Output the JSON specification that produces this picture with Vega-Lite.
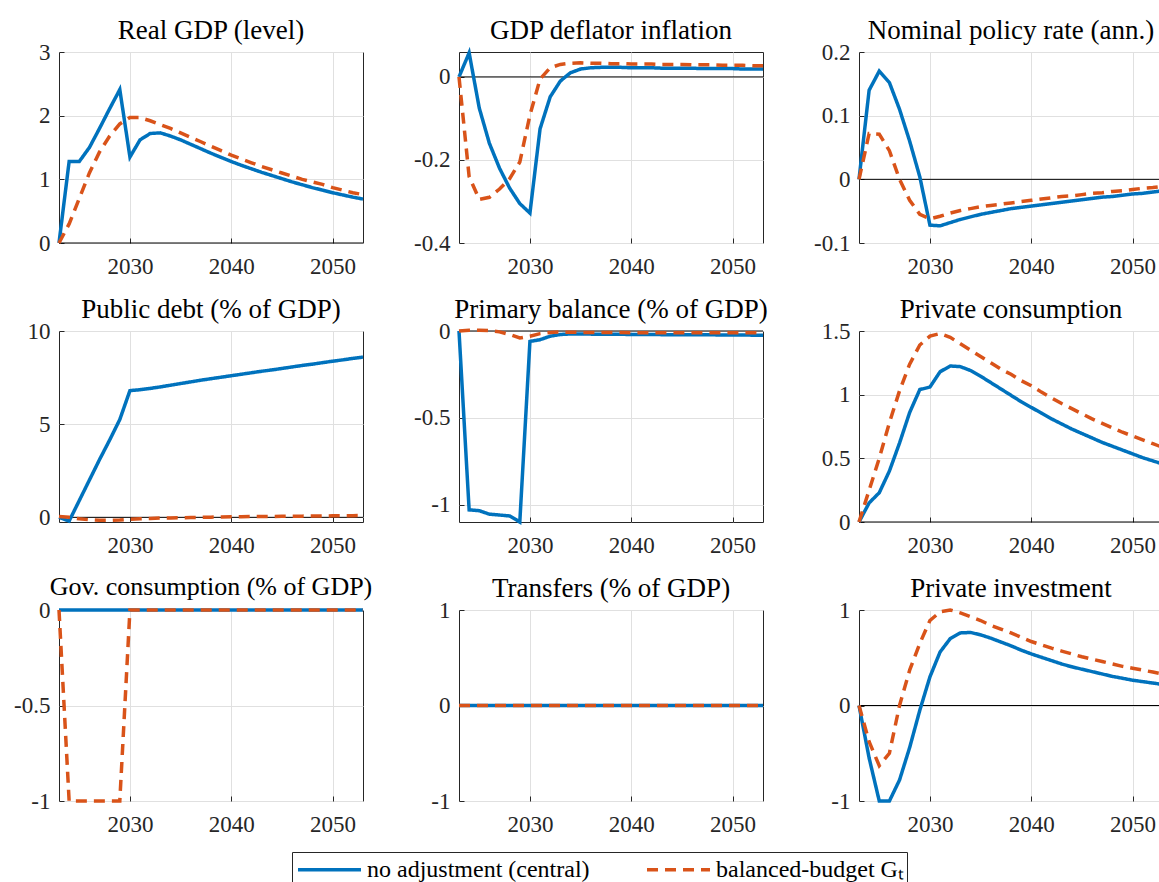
{
  "$schema": "https://vega.github.io/schema/vega-lite/v6.json",
  "padding": {"left": 13, "top": 16, "right": 0, "bottom": 0},
  "background": "white",
  "datasets": {
    "d": [
      {"p":"gdp","t":2023,"a":0,"b":0},{"p":"gdp","t":2024,"a":1.28,"b":0.3},{"p":"gdp","t":2025,"a":1.28,"b":0.7},{"p":"gdp","t":2026,"a":1.5,"b":1.1},{"p":"gdp","t":2027,"a":1.8,"b":1.43},{"p":"gdp","t":2028,"a":2.11,"b":1.68},{"p":"gdp","t":2029,"a":2.41,"b":1.87},{"p":"gdp","t":2030,"a":1.35,"b":1.97},{"p":"gdp","t":2031,"a":1.62,"b":1.97},{"p":"gdp","t":2032,"a":1.72,"b":1.92},{"p":"gdp","t":2033,"a":1.73,"b":1.86},{"p":"gdp","t":2034,"a":1.68,"b":1.8},{"p":"gdp","t":2035,"a":1.62,"b":1.73},{"p":"gdp","t":2036,"a":1.55,"b":1.66},{"p":"gdp","t":2037,"a":1.48,"b":1.59},{"p":"gdp","t":2038,"a":1.41,"b":1.52},{"p":"gdp","t":2039,"a":1.345,"b":1.45},{"p":"gdp","t":2040,"a":1.28,"b":1.38},{"p":"gdp","t":2041,"a":1.22,"b":1.32},{"p":"gdp","t":2042,"a":1.165,"b":1.26},{"p":"gdp","t":2043,"a":1.11,"b":1.2},{"p":"gdp","t":2044,"a":1.06,"b":1.15},{"p":"gdp","t":2045,"a":1.01,"b":1.1},{"p":"gdp","t":2046,"a":0.96,"b":1.05},{"p":"gdp","t":2047,"a":0.915,"b":1.0},{"p":"gdp","t":2048,"a":0.87,"b":0.96},{"p":"gdp","t":2049,"a":0.83,"b":0.92},{"p":"gdp","t":2050,"a":0.79,"b":0.87},{"p":"gdp","t":2051,"a":0.755,"b":0.83},{"p":"gdp","t":2052,"a":0.72,"b":0.79},{"p":"gdp","t":2053,"a":0.69,"b":0.76},
      {"p":"infl","t":2023,"a":0,"b":0},{"p":"infl","t":2024,"a":0.058,"b":-0.24},{"p":"infl","t":2025,"a":-0.075,"b":-0.295},{"p":"infl","t":2026,"a":-0.16,"b":-0.29},{"p":"infl","t":2027,"a":-0.22,"b":-0.27},{"p":"infl","t":2028,"a":-0.268,"b":-0.245},{"p":"infl","t":2029,"a":-0.305,"b":-0.205},{"p":"infl","t":2030,"a":-0.328,"b":-0.092},{"p":"infl","t":2031,"a":-0.125,"b":-0.005},{"p":"infl","t":2032,"a":-0.048,"b":0.022},{"p":"infl","t":2033,"a":-0.01,"b":0.03},{"p":"infl","t":2034,"a":0.01,"b":0.033},{"p":"infl","t":2035,"a":0.019,"b":0.034},{"p":"infl","t":2036,"a":0.022,"b":0.033},{"p":"infl","t":2037,"a":0.023,"b":0.033},{"p":"infl","t":2038,"a":0.023,"b":0.032},{"p":"infl","t":2039,"a":0.023,"b":0.032},{"p":"infl","t":2040,"a":0.022,"b":0.031},{"p":"infl","t":2041,"a":0.022,"b":0.031},{"p":"infl","t":2042,"a":0.022,"b":0.031},{"p":"infl","t":2043,"a":0.021,"b":0.03},{"p":"infl","t":2044,"a":0.021,"b":0.03},{"p":"infl","t":2045,"a":0.021,"b":0.03},{"p":"infl","t":2046,"a":0.021,"b":0.029},{"p":"infl","t":2047,"a":0.02,"b":0.029},{"p":"infl","t":2048,"a":0.02,"b":0.029},{"p":"infl","t":2049,"a":0.02,"b":0.028},{"p":"infl","t":2050,"a":0.02,"b":0.028},{"p":"infl","t":2051,"a":0.019,"b":0.028},{"p":"infl","t":2052,"a":0.019,"b":0.027},{"p":"infl","t":2053,"a":0.019,"b":0.027},
      {"p":"rate","t":2023,"a":0,"b":0},{"p":"rate","t":2024,"a":0.14,"b":0.072},{"p":"rate","t":2025,"a":0.17,"b":0.071},{"p":"rate","t":2026,"a":0.152,"b":0.045},{"p":"rate","t":2027,"a":0.11,"b":0.0},{"p":"rate","t":2028,"a":0.06,"b":-0.033},{"p":"rate","t":2029,"a":0.004,"b":-0.055},{"p":"rate","t":2030,"a":-0.072,"b":-0.062},{"p":"rate","t":2031,"a":-0.073,"b":-0.058},{"p":"rate","t":2032,"a":-0.068,"b":-0.053},{"p":"rate","t":2033,"a":-0.063,"b":-0.049},{"p":"rate","t":2034,"a":-0.059,"b":-0.046},{"p":"rate","t":2035,"a":-0.055,"b":-0.043},{"p":"rate","t":2036,"a":-0.052,"b":-0.041},{"p":"rate","t":2037,"a":-0.049,"b":-0.039},{"p":"rate","t":2038,"a":-0.046,"b":-0.037},{"p":"rate","t":2039,"a":-0.044,"b":-0.035},{"p":"rate","t":2040,"a":-0.042,"b":-0.033},{"p":"rate","t":2041,"a":-0.04,"b":-0.031},{"p":"rate","t":2042,"a":-0.038,"b":-0.029},{"p":"rate","t":2043,"a":-0.036,"b":-0.027},{"p":"rate","t":2044,"a":-0.034,"b":-0.026},{"p":"rate","t":2045,"a":-0.032,"b":-0.024},{"p":"rate","t":2046,"a":-0.03,"b":-0.022},{"p":"rate","t":2047,"a":-0.028,"b":-0.021},{"p":"rate","t":2048,"a":-0.027,"b":-0.019},{"p":"rate","t":2049,"a":-0.025,"b":-0.018},{"p":"rate","t":2050,"a":-0.023,"b":-0.016},{"p":"rate","t":2051,"a":-0.022,"b":-0.014},{"p":"rate","t":2052,"a":-0.02,"b":-0.013},{"p":"rate","t":2053,"a":-0.018,"b":-0.011},
      {"p":"debt","t":2023,"a":0,"b":0.05},{"p":"debt","t":2024,"a":-0.2,"b":0.0},{"p":"debt","t":2025,"a":0.9,"b":-0.08},{"p":"debt","t":2026,"a":2.0,"b":-0.13},{"p":"debt","t":2027,"a":3.1,"b":-0.16},{"p":"debt","t":2028,"a":4.15,"b":-0.16},{"p":"debt","t":2029,"a":5.25,"b":-0.14},{"p":"debt","t":2030,"a":6.8,"b":-0.1},{"p":"debt","t":2031,"a":6.85,"b":-0.08},{"p":"debt","t":2032,"a":6.92,"b":-0.06},{"p":"debt","t":2033,"a":7.0,"b":-0.04},{"p":"debt","t":2034,"a":7.09,"b":-0.03},{"p":"debt","t":2035,"a":7.18,"b":-0.02},{"p":"debt","t":2036,"a":7.27,"b":-0.01},{"p":"debt","t":2037,"a":7.36,"b":0.0},{"p":"debt","t":2038,"a":7.44,"b":0.01},{"p":"debt","t":2039,"a":7.52,"b":0.02},{"p":"debt","t":2040,"a":7.6,"b":0.03},{"p":"debt","t":2041,"a":7.68,"b":0.035},{"p":"debt","t":2042,"a":7.76,"b":0.04},{"p":"debt","t":2043,"a":7.84,"b":0.045},{"p":"debt","t":2044,"a":7.91,"b":0.05},{"p":"debt","t":2045,"a":7.99,"b":0.055},{"p":"debt","t":2046,"a":8.07,"b":0.06},{"p":"debt","t":2047,"a":8.15,"b":0.065},{"p":"debt","t":2048,"a":8.22,"b":0.07},{"p":"debt","t":2049,"a":8.3,"b":0.075},{"p":"debt","t":2050,"a":8.38,"b":0.08},{"p":"debt","t":2051,"a":8.45,"b":0.085},{"p":"debt","t":2052,"a":8.53,"b":0.09},{"p":"debt","t":2053,"a":8.6,"b":0.095},
      {"p":"pb","t":2023,"a":0,"b":0},{"p":"pb","t":2024,"a":-1.03,"b":0.004},{"p":"pb","t":2025,"a":-1.035,"b":0.005},{"p":"pb","t":2026,"a":-1.055,"b":0.002},{"p":"pb","t":2027,"a":-1.06,"b":-0.005},{"p":"pb","t":2028,"a":-1.065,"b":-0.02},{"p":"pb","t":2029,"a":-1.1,"b":-0.04},{"p":"pb","t":2030,"a":-0.06,"b":-0.03},{"p":"pb","t":2031,"a":-0.05,"b":-0.015},{"p":"pb","t":2032,"a":-0.03,"b":-0.008},{"p":"pb","t":2033,"a":-0.02,"b":-0.006},{"p":"pb","t":2034,"a":-0.017,"b":-0.007},{"p":"pb","t":2035,"a":-0.017,"b":-0.008},{"p":"pb","t":2036,"a":-0.018,"b":-0.008},{"p":"pb","t":2037,"a":-0.018,"b":-0.009},{"p":"pb","t":2038,"a":-0.019,"b":-0.009},{"p":"pb","t":2039,"a":-0.019,"b":-0.009},{"p":"pb","t":2040,"a":-0.02,"b":-0.01},{"p":"pb","t":2041,"a":-0.02,"b":-0.01},{"p":"pb","t":2042,"a":-0.02,"b":-0.01},{"p":"pb","t":2043,"a":-0.021,"b":-0.01},{"p":"pb","t":2044,"a":-0.021,"b":-0.01},{"p":"pb","t":2045,"a":-0.021,"b":-0.01},{"p":"pb","t":2046,"a":-0.022,"b":-0.01},{"p":"pb","t":2047,"a":-0.022,"b":-0.01},{"p":"pb","t":2048,"a":-0.022,"b":-0.01},{"p":"pb","t":2049,"a":-0.023,"b":-0.01},{"p":"pb","t":2050,"a":-0.023,"b":-0.01},{"p":"pb","t":2051,"a":-0.023,"b":-0.01},{"p":"pb","t":2052,"a":-0.024,"b":-0.01},{"p":"pb","t":2053,"a":-0.024,"b":-0.01},
      {"p":"cons","t":2023,"a":0,"b":0},{"p":"cons","t":2024,"a":0.15,"b":0.25},{"p":"cons","t":2025,"a":0.23,"b":0.5},{"p":"cons","t":2026,"a":0.4,"b":0.78},{"p":"cons","t":2027,"a":0.62,"b":1.03},{"p":"cons","t":2028,"a":0.86,"b":1.24},{"p":"cons","t":2029,"a":1.04,"b":1.39},{"p":"cons","t":2030,"a":1.06,"b":1.46},{"p":"cons","t":2031,"a":1.18,"b":1.48},{"p":"cons","t":2032,"a":1.225,"b":1.45},{"p":"cons","t":2033,"a":1.22,"b":1.4},{"p":"cons","t":2034,"a":1.19,"b":1.35},{"p":"cons","t":2035,"a":1.145,"b":1.3},{"p":"cons","t":2036,"a":1.095,"b":1.25},{"p":"cons","t":2037,"a":1.045,"b":1.2},{"p":"cons","t":2038,"a":0.995,"b":1.16},{"p":"cons","t":2039,"a":0.945,"b":1.11},{"p":"cons","t":2040,"a":0.9,"b":1.07},{"p":"cons","t":2041,"a":0.855,"b":1.02},{"p":"cons","t":2042,"a":0.81,"b":0.975},{"p":"cons","t":2043,"a":0.77,"b":0.93},{"p":"cons","t":2044,"a":0.73,"b":0.89},{"p":"cons","t":2045,"a":0.695,"b":0.85},{"p":"cons","t":2046,"a":0.66,"b":0.81},{"p":"cons","t":2047,"a":0.625,"b":0.775},{"p":"cons","t":2048,"a":0.595,"b":0.74},{"p":"cons","t":2049,"a":0.565,"b":0.705},{"p":"cons","t":2050,"a":0.535,"b":0.675},{"p":"cons","t":2051,"a":0.505,"b":0.645},{"p":"cons","t":2052,"a":0.48,"b":0.615},{"p":"cons","t":2053,"a":0.455,"b":0.585},
      {"p":"gov","t":2023,"a":0,"b":0},{"p":"gov","t":2024,"a":0,"b":-1},{"p":"gov","t":2025,"a":0,"b":-1},{"p":"gov","t":2026,"a":0,"b":-1},{"p":"gov","t":2027,"a":0,"b":-1},{"p":"gov","t":2028,"a":0,"b":-1},{"p":"gov","t":2029,"a":0,"b":-1},{"p":"gov","t":2030,"a":0,"b":0},{"p":"gov","t":2031,"a":0,"b":0},{"p":"gov","t":2032,"a":0,"b":0},{"p":"gov","t":2033,"a":0,"b":0},{"p":"gov","t":2034,"a":0,"b":0},{"p":"gov","t":2035,"a":0,"b":0},{"p":"gov","t":2036,"a":0,"b":0},{"p":"gov","t":2037,"a":0,"b":0},{"p":"gov","t":2038,"a":0,"b":0},{"p":"gov","t":2039,"a":0,"b":0},{"p":"gov","t":2040,"a":0,"b":0},{"p":"gov","t":2041,"a":0,"b":0},{"p":"gov","t":2042,"a":0,"b":0},{"p":"gov","t":2043,"a":0,"b":0},{"p":"gov","t":2044,"a":0,"b":0},{"p":"gov","t":2045,"a":0,"b":0},{"p":"gov","t":2046,"a":0,"b":0},{"p":"gov","t":2047,"a":0,"b":0},{"p":"gov","t":2048,"a":0,"b":0},{"p":"gov","t":2049,"a":0,"b":0},{"p":"gov","t":2050,"a":0,"b":0},{"p":"gov","t":2051,"a":0,"b":0},{"p":"gov","t":2052,"a":0,"b":0},{"p":"gov","t":2053,"a":0,"b":0},
      {"p":"tr","t":2023,"a":0,"b":0},{"p":"tr","t":2024,"a":0,"b":0},{"p":"tr","t":2025,"a":0,"b":0},{"p":"tr","t":2026,"a":0,"b":0},{"p":"tr","t":2027,"a":0,"b":0},{"p":"tr","t":2028,"a":0,"b":0},{"p":"tr","t":2029,"a":0,"b":0},{"p":"tr","t":2030,"a":0,"b":0},{"p":"tr","t":2031,"a":0,"b":0},{"p":"tr","t":2032,"a":0,"b":0},{"p":"tr","t":2033,"a":0,"b":0},{"p":"tr","t":2034,"a":0,"b":0},{"p":"tr","t":2035,"a":0,"b":0},{"p":"tr","t":2036,"a":0,"b":0},{"p":"tr","t":2037,"a":0,"b":0},{"p":"tr","t":2038,"a":0,"b":0},{"p":"tr","t":2039,"a":0,"b":0},{"p":"tr","t":2040,"a":0,"b":0},{"p":"tr","t":2041,"a":0,"b":0},{"p":"tr","t":2042,"a":0,"b":0},{"p":"tr","t":2043,"a":0,"b":0},{"p":"tr","t":2044,"a":0,"b":0},{"p":"tr","t":2045,"a":0,"b":0},{"p":"tr","t":2046,"a":0,"b":0},{"p":"tr","t":2047,"a":0,"b":0},{"p":"tr","t":2048,"a":0,"b":0},{"p":"tr","t":2049,"a":0,"b":0},{"p":"tr","t":2050,"a":0,"b":0},{"p":"tr","t":2051,"a":0,"b":0},{"p":"tr","t":2052,"a":0,"b":0},{"p":"tr","t":2053,"a":0,"b":0},
      {"p":"inv","t":2023,"a":0,"b":0},{"p":"inv","t":2024,"a":-0.55,"b":-0.38},{"p":"inv","t":2025,"a":-1.0,"b":-0.63},{"p":"inv","t":2026,"a":-1.0,"b":-0.5},{"p":"inv","t":2027,"a":-0.78,"b":0.0},{"p":"inv","t":2028,"a":-0.44,"b":0.37},{"p":"inv","t":2029,"a":-0.05,"b":0.65},{"p":"inv","t":2030,"a":0.3,"b":0.89},{"p":"inv","t":2031,"a":0.56,"b":0.98},{"p":"inv","t":2032,"a":0.7,"b":1.0},{"p":"inv","t":2033,"a":0.76,"b":0.97},{"p":"inv","t":2034,"a":0.765,"b":0.93},{"p":"inv","t":2035,"a":0.74,"b":0.89},{"p":"inv","t":2036,"a":0.705,"b":0.84},{"p":"inv","t":2037,"a":0.665,"b":0.8},{"p":"inv","t":2038,"a":0.625,"b":0.76},{"p":"inv","t":2039,"a":0.58,"b":0.715},{"p":"inv","t":2040,"a":0.54,"b":0.67},{"p":"inv","t":2041,"a":0.505,"b":0.635},{"p":"inv","t":2042,"a":0.47,"b":0.6},{"p":"inv","t":2043,"a":0.435,"b":0.57},{"p":"inv","t":2044,"a":0.405,"b":0.54},{"p":"inv","t":2045,"a":0.38,"b":0.51},{"p":"inv","t":2046,"a":0.355,"b":0.485},{"p":"inv","t":2047,"a":0.33,"b":0.46},{"p":"inv","t":2048,"a":0.305,"b":0.435},{"p":"inv","t":2049,"a":0.285,"b":0.41},{"p":"inv","t":2050,"a":0.265,"b":0.39},{"p":"inv","t":2051,"a":0.25,"b":0.37},{"p":"inv","t":2052,"a":0.235,"b":0.35},{"p":"inv","t":2053,"a":0.22,"b":0.33}
    ],
    "zero": [{"z": 0}]
  },
  "columns": 3,
  "bounds": "flush",
  "spacing": {"row": 88, "column": 96},
  "concat": [
    {"title": "Real GDP (level)", "width": 304, "height": 191, "layer": [
      {"data": {"name": "zero"}, "mark": {"type": "rule", "color": "black", "strokeWidth": 1}, "encoding": {"y": {"field": "z", "type": "quantitative", "axis": {"title": null}}}},
      {"data": {"name": "d"}, "transform": [{"filter": "datum.p == 'gdp'"}, {"fold": ["a", "b"], "as": ["s", "v"]}], "mark": {"type": "line", "strokeWidth": 3.5},
       "encoding": {
        "x": {"field": "t", "type": "quantitative", "scale": {"domain": [2023, 2053], "nice": false, "zero": false}, "axis": {"values": [2030, 2040, 2050], "format": "d", "title": null}},
        "y": {"field": "v", "type": "quantitative", "scale": {"domain": [0, 3], "nice": false, "zero": false}, "axis": {"values": [0, 1, 2, 3], "title": null, "labelExpr": "'' + datum.value"}},
        "color": {"field": "s", "type": "nominal", "scale": {"domain": ["a", "b"], "range": ["#0072BD", "#D95319"]}, "legend": {"orient": "none", "legendX": 233, "legendY": 800, "direction": "horizontal", "title": null, "labelLimit": 500, "labelExpr": "datum.label == 'a' ? 'no adjustment (central)' : 'balanced-budget Gₜ'"}},
        "strokeDash": {"field": "s", "type": "nominal", "scale": {"domain": ["a", "b"], "range": [[1, 0], [11, 7]]}, "legend": {"orient": "none", "legendX": 233, "legendY": 800, "direction": "horizontal", "title": null, "labelLimit": 500, "labelExpr": "datum.label == 'a' ? 'no adjustment (central)' : 'balanced-budget Gₜ'"}}
       }}
    ]},
    {"title": {"text": "GDP deflator inflation", "offset": 1}, "width": 304, "height": 191, "layer": [
      {"data": {"name": "zero"}, "mark": {"type": "rule", "color": "black", "strokeWidth": 1}, "encoding": {"y": {"field": "z", "type": "quantitative", "axis": {"title": null}}}},
      {"data": {"name": "d"}, "transform": [{"filter": "datum.p == 'infl'"}, {"fold": ["a", "b"], "as": ["s", "v"]}], "mark": {"type": "line", "strokeWidth": 3.5},
       "encoding": {
        "x": {"field": "t", "type": "quantitative", "scale": {"domain": [2023, 2053], "nice": false, "zero": false}, "axis": {"values": [2030, 2040, 2050], "format": "d", "title": null}},
        "y": {"field": "v", "type": "quantitative", "scale": {"domain": [-0.4, 0.06], "nice": false, "zero": false}, "axis": {"values": [-0.4, -0.2, 0], "title": null, "labelExpr": "'' + datum.value"}},
        "color": {"field": "s", "type": "nominal", "scale": {"domain": ["a", "b"], "range": ["#0072BD", "#D95319"]}},
        "strokeDash": {"field": "s", "type": "nominal", "scale": {"domain": ["a", "b"], "range": [[1, 0], [11, 7]]}}
       }}
    ]},
    {"title": "Nominal policy rate (ann.)", "width": 304, "height": 191, "layer": [
      {"data": {"name": "zero"}, "mark": {"type": "rule", "color": "black", "strokeWidth": 1}, "encoding": {"y": {"field": "z", "type": "quantitative", "axis": {"title": null}}}},
      {"data": {"name": "d"}, "transform": [{"filter": "datum.p == 'rate'"}, {"fold": ["a", "b"], "as": ["s", "v"]}], "mark": {"type": "line", "strokeWidth": 3.5},
       "encoding": {
        "x": {"field": "t", "type": "quantitative", "scale": {"domain": [2023, 2053], "nice": false, "zero": false}, "axis": {"values": [2030, 2040, 2050], "format": "d", "title": null}},
        "y": {"field": "v", "type": "quantitative", "scale": {"domain": [-0.1, 0.2], "nice": false, "zero": false}, "axis": {"values": [-0.1, 0, 0.1, 0.2], "title": null, "labelExpr": "'' + datum.value"}},
        "color": {"field": "s", "type": "nominal", "scale": {"domain": ["a", "b"], "range": ["#0072BD", "#D95319"]}},
        "strokeDash": {"field": "s", "type": "nominal", "scale": {"domain": ["a", "b"], "range": [[1, 0], [11, 7]]}}
       }}
    ]},
    {"title": "Public debt (% of GDP)", "width": 304, "height": 191, "layer": [
      {"data": {"name": "zero"}, "mark": {"type": "rule", "color": "black", "strokeWidth": 1}, "encoding": {"y": {"field": "z", "type": "quantitative", "axis": {"title": null}}}},
      {"data": {"name": "d"}, "transform": [{"filter": "datum.p == 'debt'"}, {"fold": ["a", "b"], "as": ["s", "v"]}], "mark": {"type": "line", "strokeWidth": 3.5},
       "encoding": {
        "x": {"field": "t", "type": "quantitative", "scale": {"domain": [2023, 2053], "nice": false, "zero": false}, "axis": {"values": [2030, 2040, 2050], "format": "d", "title": null}},
        "y": {"field": "v", "type": "quantitative", "scale": {"domain": [-0.25, 10], "nice": false, "zero": false}, "axis": {"values": [0, 5, 10], "title": null, "labelExpr": "'' + datum.value"}},
        "color": {"field": "s", "type": "nominal", "scale": {"domain": ["a", "b"], "range": ["#0072BD", "#D95319"]}},
        "strokeDash": {"field": "s", "type": "nominal", "scale": {"domain": ["a", "b"], "range": [[1, 0], [11, 7]]}}
       }}
    ]},
    {"title": "Primary balance (% of GDP)", "width": 304, "height": 191, "layer": [
      {"data": {"name": "zero"}, "mark": {"type": "rule", "color": "black", "strokeWidth": 1}, "encoding": {"y": {"field": "z", "type": "quantitative", "axis": {"title": null}}}},
      {"data": {"name": "d"}, "transform": [{"filter": "datum.p == 'pb'"}, {"fold": ["a", "b"], "as": ["s", "v"]}], "mark": {"type": "line", "strokeWidth": 3.5},
       "encoding": {
        "x": {"field": "t", "type": "quantitative", "scale": {"domain": [2023, 2053], "nice": false, "zero": false}, "axis": {"values": [2030, 2040, 2050], "format": "d", "title": null}},
        "y": {"field": "v", "type": "quantitative", "scale": {"domain": [-1.1, 0], "nice": false, "zero": false}, "axis": {"values": [-1, -0.5, 0], "title": null, "labelExpr": "'' + datum.value"}},
        "color": {"field": "s", "type": "nominal", "scale": {"domain": ["a", "b"], "range": ["#0072BD", "#D95319"]}},
        "strokeDash": {"field": "s", "type": "nominal", "scale": {"domain": ["a", "b"], "range": [[1, 0], [11, 7]]}}
       }}
    ]},
    {"title": "Private consumption", "width": 304, "height": 191, "layer": [
      {"data": {"name": "zero"}, "mark": {"type": "rule", "color": "black", "strokeWidth": 1}, "encoding": {"y": {"field": "z", "type": "quantitative", "axis": {"title": null}}}},
      {"data": {"name": "d"}, "transform": [{"filter": "datum.p == 'cons'"}, {"fold": ["a", "b"], "as": ["s", "v"]}], "mark": {"type": "line", "strokeWidth": 3.5},
       "encoding": {
        "x": {"field": "t", "type": "quantitative", "scale": {"domain": [2023, 2053], "nice": false, "zero": false}, "axis": {"values": [2030, 2040, 2050], "format": "d", "title": null}},
        "y": {"field": "v", "type": "quantitative", "scale": {"domain": [0, 1.5], "nice": false, "zero": false}, "axis": {"values": [0, 0.5, 1, 1.5], "title": null, "labelExpr": "'' + datum.value"}},
        "color": {"field": "s", "type": "nominal", "scale": {"domain": ["a", "b"], "range": ["#0072BD", "#D95319"]}},
        "strokeDash": {"field": "s", "type": "nominal", "scale": {"domain": ["a", "b"], "range": [[1, 0], [11, 7]]}}
       }}
    ]},
    {"title": {"text": "Gov. consumption (% of GDP)", "fontSize": 26, "offset": -1}, "width": 304, "height": 191, "layer": [
      {"data": {"name": "zero"}, "mark": {"type": "rule", "color": "black", "strokeWidth": 1}, "encoding": {"y": {"field": "z", "type": "quantitative", "axis": {"title": null}}}},
      {"data": {"name": "d"}, "transform": [{"filter": "datum.p == 'gov'"}, {"fold": ["a", "b"], "as": ["s", "v"]}], "mark": {"type": "line", "strokeWidth": 3.5},
       "encoding": {
        "x": {"field": "t", "type": "quantitative", "scale": {"domain": [2023, 2053], "nice": false, "zero": false}, "axis": {"values": [2030, 2040, 2050], "format": "d", "title": null}},
        "y": {"field": "v", "type": "quantitative", "scale": {"domain": [-1, 0], "nice": false, "zero": false}, "axis": {"values": [-1, -0.5, 0], "title": null, "labelExpr": "'' + datum.value"}},
        "color": {"field": "s", "type": "nominal", "scale": {"domain": ["a", "b"], "range": ["#0072BD", "#D95319"]}},
        "strokeDash": {"field": "s", "type": "nominal", "scale": {"domain": ["a", "b"], "range": [[1, 0], [11, 7]]}}
       }}
    ]},
    {"title": "Transfers (% of GDP)", "width": 304, "height": 191, "layer": [
      {"data": {"name": "zero"}, "mark": {"type": "rule", "color": "black", "strokeWidth": 1}, "encoding": {"y": {"field": "z", "type": "quantitative", "axis": {"title": null}}}},
      {"data": {"name": "d"}, "transform": [{"filter": "datum.p == 'tr'"}, {"fold": ["a", "b"], "as": ["s", "v"]}], "mark": {"type": "line", "strokeWidth": 3.5},
       "encoding": {
        "x": {"field": "t", "type": "quantitative", "scale": {"domain": [2023, 2053], "nice": false, "zero": false}, "axis": {"values": [2030, 2040, 2050], "format": "d", "title": null}},
        "y": {"field": "v", "type": "quantitative", "scale": {"domain": [-1, 1], "nice": false, "zero": false}, "axis": {"values": [-1, 0, 1], "title": null, "labelExpr": "'' + datum.value"}},
        "color": {"field": "s", "type": "nominal", "scale": {"domain": ["a", "b"], "range": ["#0072BD", "#D95319"]}},
        "strokeDash": {"field": "s", "type": "nominal", "scale": {"domain": ["a", "b"], "range": [[1, 0], [11, 7]]}}
       }}
    ]},
    {"title": "Private investment", "width": 304, "height": 191, "layer": [
      {"data": {"name": "zero"}, "mark": {"type": "rule", "color": "black", "strokeWidth": 1}, "encoding": {"y": {"field": "z", "type": "quantitative", "axis": {"title": null}}}},
      {"data": {"name": "d"}, "transform": [{"filter": "datum.p == 'inv'"}, {"fold": ["a", "b"], "as": ["s", "v"]}], "mark": {"type": "line", "strokeWidth": 3.5},
       "encoding": {
        "x": {"field": "t", "type": "quantitative", "scale": {"domain": [2023, 2053], "nice": false, "zero": false}, "axis": {"values": [2030, 2040, 2050], "format": "d", "title": null}},
        "y": {"field": "v", "type": "quantitative", "scale": {"domain": [-1, 1], "nice": false, "zero": false}, "axis": {"values": [-1, 0, 1], "title": null, "labelExpr": "'' + datum.value"}},
        "color": {"field": "s", "type": "nominal", "scale": {"domain": ["a", "b"], "range": ["#0072BD", "#D95319"]}},
        "strokeDash": {"field": "s", "type": "nominal", "scale": {"domain": ["a", "b"], "range": [[1, 0], [11, 7]]}}
       }}
    ]}
  ],
  "config": {
    "font": "Liberation Serif, serif",
    "view": {"stroke": "#262626", "strokeWidth": 1},
    "axis": {"domain": false, "grid": true, "gridColor": "#E0E0E0", "gridWidth": 1, "tickColor": "#262626", "tickSize": -5, "tickWidth": 1, "labelFont": "Liberation Serif, serif", "labelFontSize": 23, "labelColor": "#262626"},
    "axisX": {"labelPadding": 17},
    "axisY": {"labelPadding": 14},
    "title": {"font": "Liberation Serif, serif", "fontSize": 27, "fontWeight": "normal", "color": "black", "baseline": "alphabetic", "offset": -4},
    "legend": {"labelFont": "Liberation Serif, serif", "labelFontSize": 24, "labelColor": "black", "symbolType": "M-2.5,0H2.5", "symbolSize": 635, "symbolOffset": 20, "symbolStrokeWidth": 3.5, "strokeColor": "#262626", "fillColor": "white", "padding": 3, "columnPadding": 50, "labelOffset": 23, "labelLimit": 500}
  }
}
